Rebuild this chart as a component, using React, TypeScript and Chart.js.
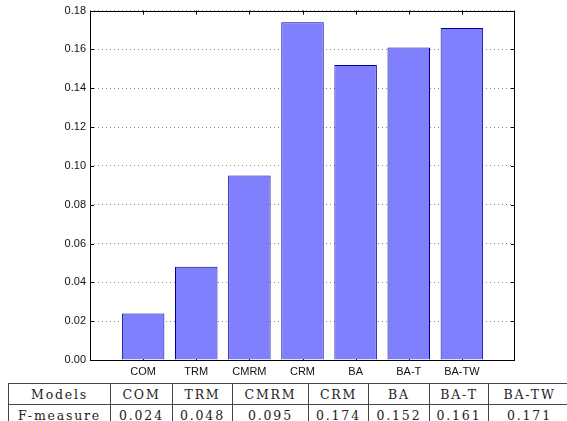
import React, { useEffect, useRef } from "react";
import { Chart, registerables } from "chart.js";

Chart.register(...registerables);

const categories = ["COM", "TRM", "CMRM", "CRM", "BA", "BA-T", "BA-TW"];
const fMeasure = [0.024, 0.048, 0.095, 0.174, 0.152, 0.161, 0.171];
const yTicks = [0, 0.02, 0.04, 0.06, 0.08, 0.1, 0.12, 0.14, 0.16, 0.18];
const tableHeader = "Models";
const tableRowLabel = "F-measure";

const colWidths = [102, 62, 60, 76, 60, 61, 59, 82];

const framePlugin = {
  id: "matlabFrame",
  beforeDatasetsDraw(chart: any) {
    const { ctx, chartArea: a, scales } = chart;
    ctx.save();
    ctx.strokeStyle = "#000";
    ctx.lineWidth = 1;
    const tl = 4;
    ctx.beginPath();
    for (let i = 1; i <= categories.length; i++) {
      const x = Math.round(scales.x.getPixelForValue(i)) + 0.5;
      ctx.moveTo(x, a.top);
      ctx.lineTo(x, a.top + tl);
      ctx.moveTo(x, a.bottom);
      ctx.lineTo(x, a.bottom - tl);
    }
    for (const v of yTicks) {
      const y = Math.round(scales.y.getPixelForValue(v)) + 0.5;
      ctx.moveTo(a.left, y);
      ctx.lineTo(a.left + tl, y);
      ctx.moveTo(a.right, y);
      ctx.lineTo(a.right - tl, y);
    }
    ctx.stroke();
    ctx.restore();
  },
  afterDatasetsDraw(chart: any) {
    const { ctx, chartArea: a } = chart;
    ctx.save();
    ctx.strokeStyle = "#000";
    ctx.lineWidth = 1;
    ctx.strokeRect(
      Math.round(a.left) + 0.5,
      Math.round(a.top) + 0.5,
      Math.round(a.right - a.left) - 1,
      Math.round(a.bottom - a.top)
    );
    ctx.restore();
  },
};

export default function App() {
  const ref = useRef<HTMLCanvasElement>(null);

  useEffect(() => {
    if (!ref.current) return;
    const labels = ["", ...categories, ""];
    const data = [null, ...fMeasure, null];
    const chart = new Chart(ref.current, {
      type: "bar",
      data: {
        labels,
        datasets: [
          {
            data: data as any,
            backgroundColor: "#8080ff",
            borderColor: "#000090",
            borderWidth: 1,
            barPercentage: 0.8,
            categoryPercentage: 1.0,
          },
        ],
      },
      plugins: [framePlugin],
      options: {
        animation: false,
        responsive: false,
        maintainAspectRatio: false,
        layout: { padding: { left: 0, right: 52, top: 9, bottom: 0 } },
        plugins: { legend: { display: false }, tooltip: { enabled: false } },
        scales: {
          x: {
            type: "category",
            offset: false,
            grid: { display: false, drawTicks: false },
            border: { display: false },
            ticks: {
              autoSkip: false,
              maxRotation: 0,
              padding: 5,
              color: "#111",
              font: { family: "Liberation Sans", size: 11 },
            },
            afterFit: (s: any) => {
              s.height = 20;
            },
          },
          y: {
            min: 0,
            max: 0.18,
            grid: {
              color: "#888",
              lineWidth: 1,
              drawTicks: false,
            },
            border: { display: false, dash: [1, 3] },
            afterBuildTicks: (s: any) => {
              s.ticks = yTicks.map((v) => ({ value: v }));
            },
            ticks: {
              padding: 4,
              color: "#111",
              font: { family: "Liberation Sans", size: 11 },
              callback: (v: any) => Number(v).toFixed(2),
            },
            afterFit: (s: any) => {
              s.width = 90;
            },
          },
        },
      },
    });
    return () => chart.destroy();
  }, []);

  const cellStyle = (w: number): React.CSSProperties => ({
    width: w,
    minWidth: w,
    maxWidth: w,
    height: 21,
    padding: 0,
    border: "1px solid #444",
    textAlign: "center",
    verticalAlign: "middle",
    boxSizing: "border-box",
    whiteSpace: "nowrap",
  });

  return (
    <div style={{ position: "absolute", left: 0, top: 0, width: 567, height: 421, overflow: "hidden", background: "#fff" }}>
      <canvas ref={ref} width={567} height={380} style={{ display: "block", width: 567, height: 380 }} />
      <table
        style={{
          position: "absolute",
          left: 8,
          top: 383,
          borderCollapse: "collapse",
          tableLayout: "fixed",
          fontFamily: "'DejaVu Serif', serif",
          fontSize: 12.5,
          letterSpacing: "1.8px",
          color: "#222",
        }}
      >
        <tbody>
          <tr>
            <td style={cellStyle(colWidths[0])}>{tableHeader}</td>
            {categories.map((c, i) => (
              <td key={c} style={cellStyle(colWidths[i + 1])}>
                {c}
              </td>
            ))}
          </tr>
          <tr>
            <td style={cellStyle(colWidths[0])}>{tableRowLabel}</td>
            {fMeasure.map((v, i) => (
              <td key={i} style={cellStyle(colWidths[i + 1])}>
                {v.toFixed(3)}
              </td>
            ))}
          </tr>
        </tbody>
      </table>
    </div>
  );
}
